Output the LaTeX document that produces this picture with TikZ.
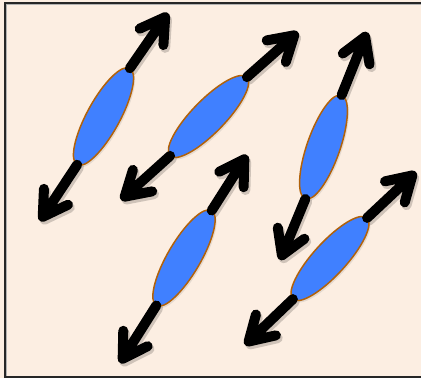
\documentclass[tikz,border=0pt]{standalone}
\usetikzlibrary{calc,shapes.geometric,shadows}
\definecolor{bgpeach}{RGB}{252,238,226}
\definecolor{cellblue}{RGB}{64,128,255}
\definecolor{cellrim}{RGB}{178,98,10}
\tikzset{
  cell/.style={ellipse, fill=cellblue, draw=cellrim, line width=1.5pt,
    minimum width=110pt, minimum height=33pt, inner sep=0pt, outer sep=0pt,
    drop shadow={opacity=0.18, shadow xshift=1.5pt, shadow yshift=-2pt}},
  cellpos/.style={ellipse, minimum width=110pt, minimum height=33pt, inner sep=0pt, outer sep=0pt},
  vec/.style={draw=black, line width=10pt, line cap=round, line join=round},
  vecshade/.style={draw=bgpeach!82!black, line width=10pt, line cap=round, line join=round,
    transform canvas={shift={(1.8pt,-2.8pt)}}},
}
\newcommand\spinarrow[3][vec]{%
  \path ($(#3)!5pt!(#2)$) coordinate (#3j);
  \draw[#1] (#2) -- (#3j) -- ($(#3j)!28pt!31:(#2)$) (#3j) -- ($(#3j)!28pt!-31:(#2)$);
}
\begin{document}
\begin{tikzpicture}[x=1pt,y=-1pt]
  \useasboundingbox (0,0) rectangle (421,378);
  \clip (0,0) rectangle (421,378);
  \fill[bgpeach] (0,0) rectangle (421,378);
  \draw[line width=2.2pt, black!30] (440,3.5) -- (5.5,3.5) -- (5.5,377.5) -- (440,377.5);
  \draw[line width=1.3pt, black!85] (440,3) -- (5,3) -- (5,377) -- (440,377);
  % tips
  \coordinate (tA1) at (168,13);  \coordinate (tA2) at (40,221);
  \coordinate (tB1) at (298,32);  \coordinate (tB2) at (121,200);
  \coordinate (tC1) at (367,32);  \coordinate (tC2) at (280,260);
  \coordinate (tD1) at (247,155); \coordinate (tD2) at (120,363);
  \coordinate (tE1) at (416,172); \coordinate (tE2) at (245,345);
  % cell positions (for anchors)
  \path node[cellpos, rotate=61.35] (A) at (103.5,116.5) {}
        node[cellpos, rotate=45.7] (B) at (208.5,116.5) {}
        node[cellpos, rotate=70.75] (C) at (323.5,147) {}
        node[cellpos, rotate=59.74] (D) at (184,258) {}
        node[cellpos, rotate=47.58] (E) at (330,258.5) {};
  % arrow shadows
  \foreach \c in {A,B,C,D,E}{
    \spinarrow[vecshade]{\c.east}{t\c1}
    \spinarrow[vecshade]{\c.west}{t\c2}
  }
  % cells
  \node[cell, rotate=61.35] (A) at (103.5,116.5) {};
  \node[cell, rotate=45.7]  (B) at (208.5,116.5) {};
  \node[cell, rotate=70.75] (C) at (323.5,147) {};
  \node[cell, rotate=59.74] (D) at (184,258) {};
  \node[cell, rotate=47.58] (E) at (330,258.5) {};
  % arrows
  \foreach \c in {A,B,C,D,E}{
    \spinarrow{\c.east}{t\c1}
    \spinarrow{\c.west}{t\c2}
  }
\end{tikzpicture}
\end{document}
